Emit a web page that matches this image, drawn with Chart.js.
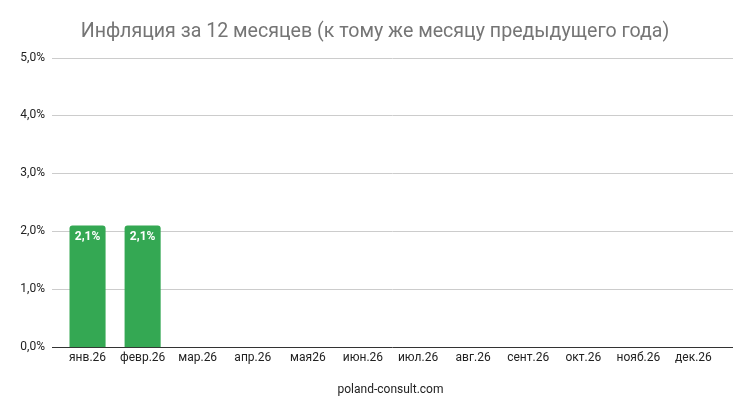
<!DOCTYPE html>
<html>
<head>
<meta charset="utf-8">
<script src="https://cdn.jsdelivr.net/npm/chart.js@4"></script>
<style>
  html, body { margin: 0; padding: 0; background: #fff; }
  #wrap { width: 750px; height: 410px; }
</style>
</head>
<body>
<div id="wrap"><canvas id="inflChart"></canvas></div>
<script>
// données
const months = ['янв.26', 'февр.26', 'мар.26', 'апр.26', 'мая26', 'июн.26', 'июл.26', 'авг.26', 'сент.26', 'окт.26', 'нояб.26', 'дек.26'];
const inflation = [2.1, 2.1, null, null, null, null, null, null, null, null, null, null];
const yTicks = [0, 1, 2, 3, 4, 5];

const fmt = v => v.toFixed(1).replace('.', ',') + '%';

// grille horizontale un peu plus large que la zone du graphique
const gridPlugin = {
  id: 'wideGrid',
  beforeDatasetsDraw(chart) {
    const { ctx, chartArea, scales } = chart;
    ctx.save();
    yTicks.forEach(v => {
      const y = Math.round(scales.y.getPixelForValue(v)) + 0.5;
      ctx.strokeStyle = v === 0 ? '#333333' : '#cccccc';
      ctx.lineWidth = 1;
      ctx.beginPath();
      ctx.moveTo(chartArea.left - 8, y);
      ctx.lineTo(chartArea.right + 12, y);
      ctx.stroke();
    });
    ctx.restore();
  }
};

// étiquettes dans les barres
const labelPlugin = {
  id: 'barLabels',
  afterDatasetsDraw(chart) {
    const { ctx } = chart;
    const meta = chart.getDatasetMeta(0);
    ctx.save();
    ctx.fillStyle = '#ffffff';
    ctx.font = 'bold 12px Roboto';
    ctx.textAlign = 'center';
    ctx.textBaseline = 'middle';
    meta.data.forEach((bar, i) => {
      if (inflation[i] == null) return;
      ctx.fillText(fmt(inflation[i]), bar.x, bar.y + 11);
    });
    ctx.restore();
  }
};

new Chart(document.getElementById('inflChart'), {
  type: 'bar',
  data: {
    labels: months,
    datasets: [{
      label: 'Инфляция',
      data: inflation,
      backgroundColor: '#34a853',
      borderRadius: { topLeft: 3, topRight: 3 },
      borderSkipped: 'bottom',
      barPercentage: 0.655,
      categoryPercentage: 1
    }]
  },
  options: {
    responsive: true,
    maintainAspectRatio: false,
    animation: false,
    layout: {
      padding: { left: 0, right: 0, top: 0, bottom: 13 }
    },
    plugins: {
      legend: { display: false },
      tooltip: { enabled: false },
      title: {
        display: true,
        text: 'Инфляция за 12 месяцев (к тому же месяцу предыдущего года)',
        color: '#757575',
        font: { family: 'Roboto', size: 19.6, weight: 'normal' },
        padding: { top: 20, bottom: 14 }
      }
    },
    scales: {
      x: {
        grid: { display: false, drawTicks: false },
        border: { display: false },
        ticks: {
          color: '#222222',
          font: { family: 'Roboto', size: 12 },
          maxRotation: 0,
          autoSkip: false,
          padding: 4
        },
        title: {
          display: true,
          text: 'poland-consult.com',
          color: '#222222',
          font: { family: 'Roboto', size: 12 },
          padding: { top: 13, bottom: 0 }
        }
      },
      y: {
        min: 0,
        max: 5,
        afterBuildTicks: scale => { scale.ticks = yTicks.map(v => ({ value: v })); },
        afterFit: scale => { scale.width = 60; },
        grid: { display: false, drawTicks: false },
        border: { display: false },
        ticks: {
          color: '#222222',
          font: { family: 'Roboto', size: 12 },
          padding: 15,
          callback: v => fmt(v)
        }
      },
      // marge droite (vide)
      yRight: {
        position: 'right',
        display: true,
        grid: { display: false, drawTicks: false },
        border: { display: false },
        ticks: { display: false },
        afterFit: scale => { scale.width = 29; }
      }
    }
  },
  plugins: [gridPlugin, labelPlugin]
});
</script>
</body>
</html>
